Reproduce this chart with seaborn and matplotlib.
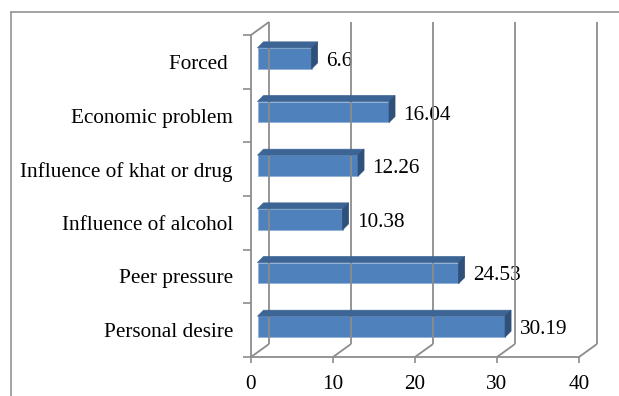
import numpy as np
import pandas as pd
import matplotlib
matplotlib.use("Agg")
import matplotlib.pyplot as plt
import seaborn as sns
from matplotlib.patches import Polygon
from matplotlib.lines import Line2D
from matplotlib.transforms import IdentityTransform, ScaledTranslation

# ---- data ----
categories = ["Forced ", "Economic problem", "Influence of khat or drug",
              "Influence of alcohol", "Peer pressure", "Personal desire"]
values = [6.6, 16.04, 12.26, 10.38, 24.53, 30.19]
value_labels = ["6.6", "16.04", "12.26", "10.38", "24.53", "30.19"]
xticks = [0, 10, 20, 30, 40]

sns.set_theme(style="white")
plt.rcParams["font.family"] = ["Liberation Serif", "DejaVu Serif"]

W, H, DPI = 619, 396, 100
fig = plt.figure(figsize=(W / DPI, H / DPI), dpi=DPI)
fig.patch.set_facecolor("white")

# front plane of the 3D box: x 251..579 px, y 35..357 px (from top)
ax = fig.add_axes([251 / W, (H - 357) / H, 328 / W, 322 / H])
ax.patch.set_alpha(0)

df = pd.DataFrame({"cat": categories, "val": values})
sns.barplot(data=df, x="val", y="cat", orient="h", color="#4F81BD",
            width=0.39, ax=ax, saturation=1, edgecolor="#8FB0D9", linewidth=0.6)
ax.set_xlim(0, 40)
ax.set_ylim(5.5, -0.5)
ax.set_xlabel("")
ax.set_ylabel("")

GRID = "#8C8C8C"
# spines
for s in ["top", "right"]:
    ax.spines[s].set_visible(False)
for s in ["left", "bottom"]:
    ax.spines[s].set_color(GRID)
    ax.spines[s].set_linewidth(1.3)

ax.set_xticks(xticks)
ax.set_xticklabels([str(t) for t in xticks])
ax.tick_params(axis="x", length=4, width=1.2, color=GRID, pad=9, labelsize=15.3,
               bottom=True, direction="out")
ax.set_yticks(range(len(categories)))
ax.set_yticklabels(categories)
ax.tick_params(axis="y", length=0, pad=13, labelsize=15.3, left=True)
ax.set_yticks(np.arange(-0.5, len(categories), 1.0), minor=True)
ax.tick_params(axis="y", which="minor", length=6, width=1.2, color=GRID, left=True)
for lbl in ax.get_xticklabels() + ax.get_yticklabels():
    lbl.set_color("black")

fig.canvas.draw()
ident = IdentityTransform()

# 3D walls / gridlines (display pixels)
DX, DY = 18, 13
x0d, yfloor = ax.transData.transform((0, 5.5))
_, ytop = ax.transData.transform((0, -0.5))
lines = []
for t in xticks:
    xd, _ = ax.transData.transform((t, 5.5))
    lines.append(([xd, xd + DX], [yfloor, yfloor + DY]))
    lines.append(([xd + DX, xd + DX], [yfloor + DY, ytop + DY]))
lines.append(([x0d, x0d + DX], [ytop, ytop + DY]))
for xs, ys in lines:
    fig.add_artist(Line2D(xs, ys, transform=ident, color=GRID, lw=1.3,
                          solid_capstyle="butt", zorder=0.5))

# 3D bars: shift front faces, add top and side faces
BX, BY = 6.5, 3.5   # shift of bar plane
D = 6               # bar depth
shift = ScaledTranslation(BX / DPI, BY / DPI, fig.dpi_scale_trans)
for p, lab in zip(ax.patches, value_labels):
    x, y, w, h = p.get_x(), p.get_y(), p.get_width(), p.get_height()
    (xl, yt) = ax.transData.transform((x, y)) + np.array([BX, BY])
    (xr, yb) = ax.transData.transform((x + w, y + h)) + np.array([BX, BY])
    p.set_transform(ax.transData + shift)
    top = Polygon([[xl, yt], [xr, yt], [xr + D, yt + D], [xl + D, yt + D]],
                  closed=True, transform=ident, facecolor="#3C6595",
                  edgecolor="#3C6595", lw=0.5, zorder=3)
    side = Polygon([[xr, yb], [xr, yt], [xr + D, yt + D], [xr + D, yb + D]],
                   closed=True, transform=ident, facecolor="#2E5079",
                   edgecolor="#2E5079", lw=0.5, zorder=3)
    fig.add_artist(top)
    fig.add_artist(side)
    ax.annotate(lab, xy=(x + w, y + h / 2), xytext=(21, 0.5),
                textcoords="offset pixels", ha="left", va="center",
                fontsize=15.3, color="black", annotation_clip=False)

# outer chart frame
fig.add_artist(Line2D([11 / W, 1.0], [(H - 12) / H, (H - 12) / H],
                      transform=fig.transFigure, color="#8A8A8A", lw=1.1))
fig.add_artist(Line2D([11 / W, 11 / W], [0, (H - 12) / H],
                      transform=fig.transFigure, color="#8A8A8A", lw=1.1))

fig.savefig("out.png", dpi=DPI, facecolor="white")
